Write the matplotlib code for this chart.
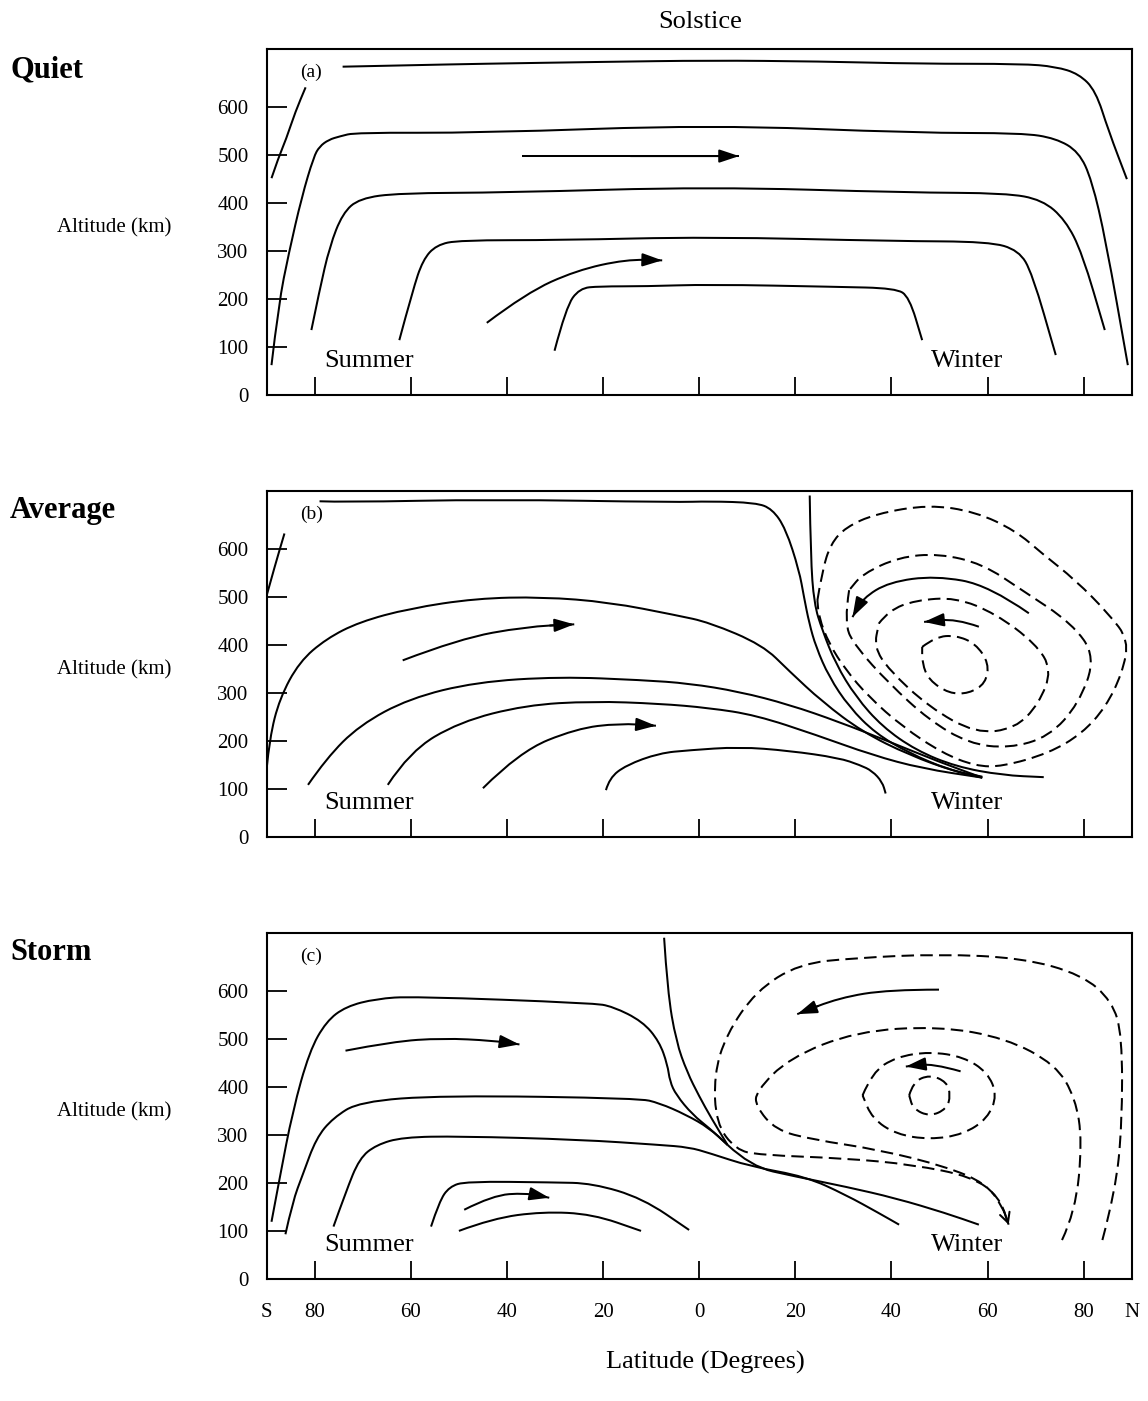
import matplotlib
matplotlib.use("Agg")
import matplotlib.pyplot as plt
from matplotlib.path import Path
from matplotlib.patches import PathPatch

plt.rcParams['font.family'] = ['Liberation Serif', 'DejaVu Serif']
plt.rcParams['lines.scale_dashes'] = False

# ---- tick labels ----
lat_ticks = [-90, -80, -60, -40, -20, 0, 20, 40, 60, 80, 90]
lat_labels = ['S', '80', '60', '40', '20', '0', '20', '40', '60', '80', 'N']
alt_ticks = [0, 100, 200, 300, 400, 500, 600]
panel_names = ['Quiet', 'Average', 'Storm']
panel_tags = ['(a)', '(b)', '(c)']

# ---- (a) quiet : streamlines as (latitude, altitude km) ----
quiet_top = [(-74.2, 683), (-60, 686), (-45.7, 689), (-20, 693), (2.1, 696), (25, 694),
             (45.7, 689), (67.2, 689), (74.2, 683), (79, 668), (82.5, 633), (85.2, 549), (89, 449)]
quiet_left = [(-89, 451), (-87.5, 495), (-86, 531), (-84, 590), (-81.9, 640)]
quiet_550 = [(-89, 62), (-87.5, 190), (-85.4, 295), (-82.7, 412), (-80.2, 496), (-79, 517),
             (-77.1, 531), (-74.8, 538), (-71.5, 546), (-45.7, 545), (2.1, 562), (45.7, 545),
             (67.2, 545), (74.2, 534), (79, 506), (81.7, 447), (84.6, 322), (89.2, 62)]
quiet_430 = [(-80.7, 135), (-79, 218), (-76.9, 309), (-74.2, 378), (-70.7, 409), (-62.4, 420),
             (-40.2, 421), (2.1, 433), (43.7, 421), (63.8, 420), (71.4, 406), (76.2, 364),
             (79.7, 295), (84.4, 135)]
quiet_320 = [(-62.4, 114), (-59.6, 218), (-57.5, 281), (-54.7, 312), (-49.9, 322), (-29.1, 322),
             (2.1, 329), (40.9, 320), (60.3, 319), (66.5, 301), (69.3, 253), (74.2, 83)]
quiet_230 = [(-30.1, 92), (-27.7, 183), (-24.9, 222), (-20.8, 226), (-11.1, 226), (2.1, 230),
             (28.4, 225), (40.9, 222), (43.7, 204), (46.4, 114)]
quiet_arrow_upper = [(-36.9, 497), (8.3, 497)]
quiet_arrow_lower = [(-44.2, 150), (-36, 212), (-25.6, 259), (-15.2, 282), (-7.7, 280)]

# ---- (b) average ----
avg_top = [(-79, 699), (-74.2, 697), (-43, 703), (-4.8, 697), (2.1, 699), (11.8, 696), (15.2, 683),
           (18, 642), (20.8, 555), (21.8, 500), (22.9, 445), (24.3, 396), (27, 334), (31.2, 271),
           (36.7, 216), (43.7, 175), (52, 140), (58.9, 126)]
avg_vertical = [(23, 711), (23.2, 583), (23.9, 486), (25.6, 431), (28.4, 361), (32.6, 292),
                (38.1, 230), (45.1, 181), (53.4, 147), (63.1, 129), (71.7, 125)]
avg_left = [(-90, 503), (-88.2, 568), (-86.3, 632)]
avg_500 = [(-90, 143), (-89.4, 206), (-87.3, 289), (-83.2, 365), (-77.6, 413), (-70.7, 448),
           (-60.3, 476), (-46.4, 497), (-32.6, 500), (-18.7, 489), (-4.8, 462), (2.1, 447),
           (13.2, 400), (18.7, 346), (25.6, 282), (34, 219), (43.7, 171), (53.4, 136), (58.9, 124)]
avg_330 = [(-81.4, 109), (-77.6, 164), (-70.7, 233), (-60.3, 289), (-46.4, 323), (-29.1, 334),
           (-11.8, 327), (-2.1, 320), (8.3, 303), (18.7, 276), (29.1, 240), (39.5, 199),
           (49.9, 157), (58.9, 124)]
avg_280 = [(-64.8, 109), (-60.3, 178), (-49.9, 240), (-36.1, 275), (-22.2, 283), (-8.3, 278),
           (2.1, 269), (11.8, 254), (24.3, 213), (36, 171), (46.4, 143), (58.9, 124)]
avg_190 = [(-19.4, 98), (-18.7, 123), (-15.2, 150), (-8.3, 175), (-2.1, 181), (8.3, 188),
           (18.7, 180), (29.1, 165), (33.5, 150), (36, 138), (38.1, 115), (38.8, 91)]
avg_arrow_upper = [(-61.7, 368), (-49.9, 413), (-36.1, 438), (-26, 443)]
avg_arrow_lower = [(-45, 102), (-37.4, 178), (-25.6, 226), (-16.6, 237), (-9, 232)]
avg_arrow_vortex = [(68.6, 466), (60.3, 524), (49.2, 544), (39.5, 531), (34, 497), (31.9, 458)]
avg_arrow_inner = [(58.2, 438), (53.4, 455), (46.8, 448)]
avg_dash1 = [(24.6, 493), (25.6, 555), (27.4, 611), (30.5, 645), (36.7, 673), (47.8, 692),
             (57.5, 677), (65.8, 638), (71.4, 590), (78.3, 535), (85.2, 465), (89.4, 410),
             (88, 341), (84.6, 271), (79.7, 216), (72.8, 175), (63.1, 147), (57.5, 148),
             (50.6, 175), (42.3, 230), (35.3, 292), (30.5, 348), (27, 403), (24.9, 458), (24.6, 493)]
avg_dash2 = [(31.2, 514), (30.1, 445), (32.6, 396), (39.5, 320), (47.8, 244), (56.1, 195),
             (64.4, 185), (72.8, 209), (79, 278), (82.5, 375), (77.6, 445), (67.2, 514),
             (58.9, 569), (49.9, 590), (41.6, 583), (34, 548), (31.2, 514)]
avg_dash3 = [(37.4, 445), (39.5, 472), (45, 493), (53.4, 499), (61.7, 465), (70, 403), (73.4, 348),
             (70.7, 278), (65.8, 226), (57.5, 216), (47.8, 271), (39.5, 348), (36.4, 396), (37.4, 445)]
avg_dash4 = [(46.4, 396), (49.2, 417), (53.4, 420), (57.5, 403), (60.3, 362), (59.6, 320),
             (56.1, 299), (52, 299), (47.8, 327), (46.4, 362), (46.4, 396)]

# ---- (c) storm ----
storm_580 = [(-89, 119), (-87.3, 210), (-84.6, 349), (-81.1, 474), (-77.6, 536), (-73.5, 567),
             (-67.2, 583), (-59.6, 588), (-22.2, 574), (-18, 567), (-11.8, 536), (-8.3, 494),
             (-6.6, 446), (-6.1, 411), (-4.8, 383), (-1.4, 342), (2.1, 314), (5.9, 279)]
storm_vertical = [(-7.3, 710), (-6.6, 599), (-4.8, 494), (-2.5, 430), (0, 380), (2.5, 335), (5.9, 279)]
storm_380 = [(-86.1, 93), (-84.6, 161), (-82.5, 217), (-79.7, 293), (-76.2, 335), (-70.7, 369),
             (-53.4, 382), (-12.5, 376), (-8.3, 366), (-2.8, 342), (2.1, 314), (5.9, 279)]
storm_290 = [(-76.1, 109), (-73.5, 182), (-70.7, 251), (-67.2, 279), (-61.7, 295), (-49.9, 297),
             (-24.9, 290), (-8.3, 279), (-2.1, 274), (2.1, 262), (10.7, 234), (22.2, 213),
             (30.5, 175), (37.4, 137), (41.6, 113)]
storm_out = [(5.9, 279), (10.7, 234), (20.1, 213), (30.5, 192), (40.9, 168), (51.3, 137), (58.2, 113)]
storm_200 = [(-55.8, 109), (-54.1, 161), (-52, 192), (-48.5, 203), (-30.5, 201), (-22.2, 199),
             (-11.8, 168), (-2.1, 102)]
storm_140 = [(-50, 100), (-43, 126), (-32.6, 140), (-22.2, 135), (-12.1, 100)]
storm_arrow_upper = [(-73.6, 475), (-63.8, 494), (-53.4, 501), (-43, 496), (-37.4, 488)]
storm_arrow_lower = [(-48.9, 144), (-43, 174), (-36.1, 179), (-31.2, 169)]
storm_arrow_vortex = [(49.9, 602), (39.5, 602), (29.1, 585), (20.4, 551)]
storm_arrow_inner = [(54.4, 432), (48.5, 449), (43, 442)]
storm_dash1 = [(83.9, 81), (86.6, 182), (88, 321), (88, 508), (85.9, 578), (79.7, 633), (67.2, 668),
               (49.9, 676), (32.6, 668), (20.8, 656), (11.8, 599), (5.6, 508), (3.1, 425), (3.5, 324),
               (7.6, 269), (12.5, 258), (30.5, 251), (44.3, 238), (56.8, 213), (62.4, 171), (64.4, 113)]
storm_dash2 = [(75.5, 81), (78.3, 140), (79.7, 286), (78.3, 376), (74.2, 446), (63.8, 501),
               (49.9, 526), (32.6, 515), (18.7, 460), (11.8, 390), (11.8, 359), (15.9, 310),
               (23.6, 290), (37.4, 269), (51.3, 234), (59.6, 199), (63.1, 151), (64.4, 113)]
storm_dash3 = [(34, 382), (36, 430), (41, 462), (48, 473), (55, 462), (60, 430), (62, 382),
               (60, 334), (55, 301), (48, 290), (41, 301), (36, 334), (34, 382)]
storm_dash4 = [(43.7, 382), (44.5, 410), (48, 425), (51.5, 410), (52.3, 382), (51.5, 354),
               (48, 338), (44.5, 354), (43.7, 382)]

panels = [
    dict(solid=[quiet_top, quiet_left, quiet_550, quiet_430, quiet_320, quiet_230],
         arrows=[quiet_arrow_upper, quiet_arrow_lower], dashed=[], dash_arrows=[]),
    dict(solid=[avg_top, avg_vertical, avg_left, avg_500, avg_330, avg_280, avg_190],
         arrows=[avg_arrow_upper, avg_arrow_lower, avg_arrow_vortex, avg_arrow_inner],
         dashed=[avg_dash1, avg_dash2, avg_dash3, avg_dash4], dash_arrows=[]),
    dict(solid=[storm_580, storm_vertical, storm_380, storm_290, storm_out, storm_200, storm_140],
         arrows=[storm_arrow_upper, storm_arrow_lower, storm_arrow_vortex, storm_arrow_inner],
         dashed=[storm_dash3, storm_dash4], dash_arrows=[storm_dash1, storm_dash2]),
]

LW = 1.45
DASH = (0, (9, 4.5))


def mid(p, q):
    return ((p[0] + q[0]) / 2, (p[1] + q[1]) / 2)


def line(ax, pts, ls='-'):
    # smooth path: traced points act as quadratic bezier controls
    verts = [pts[0]]
    codes = [Path.MOVETO]
    for i in range(1, len(pts) - 1):
        verts += [pts[i], mid(pts[i], pts[i + 1])]
        codes += [Path.CURVE3, Path.CURVE3]
    verts.append(pts[-1])
    codes.append(Path.LINETO)
    ax.add_patch(PathPatch(Path(verts, codes), fill=False, ec='k', lw=LW, ls=ls,
                           capstyle='butt', joinstyle='round'))


def head(ax, pts, big=True):
    style = '-|>,head_length=0.6,head_width=0.2' if big else '->,head_length=0.35,head_width=0.18'
    ax.annotate('', xy=pts[-1], xytext=mid(pts[-2], pts[-1]),
                arrowprops=dict(arrowstyle=style, color='k', lw=LW, mutation_scale=20,
                                shrinkA=0, shrinkB=0))


fig = plt.figure(figsize=(11.48, 14.01), dpi=100)
bottoms = [0.7181, 0.4024, 0.0871]
label_y = [77, 518, 960]

for i, cfg in enumerate(panels):
    ax = fig.add_axes([0.2323, bottoms[i], 0.7535, 0.247])
    ax.set_xlim(-90, 90)
    ax.set_ylim(0, 720)
    for s in ax.spines.values():
        s.set_linewidth(1.5)
    ax.set_xticks(lat_ticks)
    ax.set_yticks(alt_ticks)
    ax.xaxis.set_tick_params(direction='in', length=13, width=1.3, pad=17, labelsize=15)
    ax.yaxis.set_tick_params(direction='in', length=14.5, width=1.3, pad=13, labelsize=15)
    if i == 2:
        ax.set_xticklabels(lat_labels)
    else:
        ax.tick_params(labelbottom=False)

    for pts in cfg['solid']:
        line(ax, pts)
    for pts in cfg['arrows']:
        line(ax, pts)
        head(ax, pts)
    for pts in cfg['dashed']:
        line(ax, pts, DASH)
    for pts in cfg['dash_arrows']:
        line(ax, pts, DASH)
    if cfg['dash_arrows']:
        head(ax, cfg['dash_arrows'][0], big=False)

    ax.text(0.0385, 0.933, panel_tags[i], transform=ax.transAxes, ha='left', va='center', fontsize=14)
    ax.text(-78, 58, 'Summer', ha='left', va='baseline', fontsize=19)
    ax.text(48.2, 58, 'Winter', ha='left', va='baseline', fontsize=19)

    fig.text(10 / 1148, 1 - label_y[i] / 1401, panel_names[i], ha='left', va='baseline',
             fontsize=22, fontweight='bold')
    fig.text(114.5 / 1148, bottoms[i] + 0.247 / 2 - 6 / 1401, 'Altitude (km)',
             ha='center', va='center', fontsize=15)

fig.text(700 / 1148, 1 - 22 / 1401, 'Solstice', ha='center', va='center', fontsize=19)
fig.text(705 / 1148, 1 - 1362 / 1401, 'Latitude (Degrees)', ha='center', va='center', fontsize=19)

fig.savefig('out.png', dpi=100)
